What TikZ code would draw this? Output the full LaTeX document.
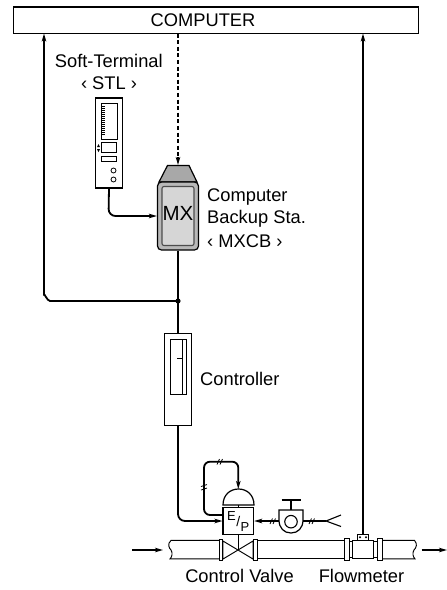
\documentclass[tikz,border=0pt]{standalone}
\usepackage{fontspec}
\setmainfont{Liberation Sans}
\usetikzlibrary{arrows.meta,calc}
\definecolor{mxtop}{gray}{0.66}
\definecolor{mxouter}{gray}{0.72}
\definecolor{mxinner}{gray}{0.84}
\tikzset{
  wire/.style={line width=1.8pt,line join=round},
  piece/.style={line width=0.95pt},
  tip/.style={-{Stealth[length=8pt,width=4.5pt,inset=2pt]}},
  boxed/.style={draw,line width=1.2pt,inner sep=0pt,fill=white},
  lbl/.style={font=\fontsize{18.3}{20}\selectfont,inner sep=0pt},
  tick/.style={line width=0.8pt},
}
\begin{document}
\begin{tikzpicture}[x=1pt,y=-1pt]
\useasboundingbox (0,0) rectangle (447,590);
% Computer
\node[boxed,lbl,minimum width=405pt,minimum height=26.5pt] (computer) at (216,20.2) {};
\node[lbl] (computertxt) at (203,20.2) {COMPUTER};
% labels
\node[lbl] (softt) at (108.8,61) {Soft-Terminal};
\node[lbl] (stl) at (109,83.5) {‹ STL ›};
\node[lbl,anchor=west] (cb1) at (207,197) {Computer};
\node[lbl,anchor=west] (cb2) at (207,218.5) {Backup Sta.};
\node[lbl,anchor=west] (cb3) at (207,241) {‹ MXCB ›};
\node[lbl,anchor=west] (ctrl) at (200,379) {Controller};
\node[lbl] (cvl) at (239.5,576) {Control Valve};
\node[lbl] (fml) at (361.5,576) {Flowmeter};
% STL device
\node[boxed,minimum width=26.5pt,minimum height=90pt] (stlbox) at (109,143) {};
\node[boxed,minimum width=16pt,minimum height=36pt,line width=0.9pt] (stlscreen) at (109,121) {};
\node[boxed,minimum width=15pt,minimum height=9.5pt,line width=0.9pt] (stlmid) at (108.5,147.5) {};
\node[boxed,minimum width=15pt,minimum height=5pt,line width=0.9pt] (stlsmall) at (108.5,158.5) {};
\node[draw,circle,line width=0.8pt,minimum size=5pt,inner sep=0pt] (stlc1) at (113.5,170.5) {};
\node[draw,circle,line width=0.8pt,minimum size=5pt,inner sep=0pt] (stlc2) at (113.5,179.5) {};
\foreach \y in {106,108,...,134}{\draw[line width=0.6pt] (101,\y) -- (104.5,\y);}
\fill (97,147) -- (100,147) -- (98.5,144) -- cycle;
\fill (97,149) -- (100,149) -- (98.5,152) -- cycle;
% MX
\draw[line width=1.2pt,fill=mxtop] (159,182) -- (167.5,165.5) -- (189,165.5) -- (197,182) -- cycle;
\node[draw,line width=1.2pt,fill=mxouter,rounded corners=4pt,minimum width=41pt,minimum height=68pt,inner sep=0pt] (mx) at (178,216) {};
\node[draw=black!70,line width=1.1pt,fill=mxinner,rounded corners=2pt,minimum width=32pt,minimum height=59pt,inner sep=0pt] (mxin) at (178,216) {};
\node[lbl,font=\fontsize{20.5}{22}\selectfont] (mxtxt) at (178,213.5) {MX};
% Controller
\node[boxed,minimum width=27pt,minimum height=91.5pt] (cont) at (178,379.5) {};
\node[boxed,minimum width=16pt,minimum height=54.5pt,line width=0.9pt] (contin) at (178,367) {};
\draw[line width=0.9pt] (182,339.7) -- (182,394.3);
\draw[line width=0.9pt] (177,358) -- (182,358);
% Wires
\coordinate (j) at (178,301);
\draw[wire,tip] (j) -- (50,301) to[out=180,in=90,looseness=0.9] (44,295) -- (44,33.5);
\draw[wire] (mx.south) -- (cont.north);
\fill (j) circle (2.6pt);
\draw[line width=2pt,dash pattern=on 4pt off 2.6pt] (178,33.5) -- (178,158);
\draw[wire,tip] (178,157) -- (178,165);
\draw[wire,tip,rounded corners=7pt] (stlbox.south) -- (108.5,216) -- (mx.west);
% E/P
\node[boxed,minimum width=30.5pt,minimum height=26.5pt] (ep) at (238.3,521) {};
\node[inner sep=0pt,font=\fontsize{13}{14}\selectfont] (ee) at (231.5,516.5) {E};
\node[inner sep=0pt,font=\fontsize{14}{14}\selectfont] (sl) at (238.3,521.5) {/};
\node[inner sep=0pt,font=\fontsize{13}{14}\selectfont] (pp) at (245,527) {P};
\draw[line width=1.2pt] (223,505) .. controls (223,495) and (230,489) .. (238.5,489) .. controls (247,489) and (254,495) .. (254,505) -- cycle;
\coordinate (domebase) at (238.3,505);
\coordinate (dometop) at (238.3,489);
\draw[line width=1.2pt] (domebase) -- (ep.north);
\draw[wire,tip,rounded corners=7pt] (cont.south) -- (178,521) -- (ep.west);
\draw[wire,tip,rounded corners=6pt] (223,515) -- (204,515) -- (204,461.7) -- (238.3,461.7) -- (dometop);
\draw[tick] (217,464.5) -- (219.5,459) (220,464.5) -- (222.5,459);
\draw[tick] (201,486.5) -- (207,484.5) (201,490) -- (207,488);
% valve
\draw[piece] (223,541) -- (253,559) -- (253,541) -- (223,559) -- cycle;
\draw[piece] (ep.south) -- (238.3,550);
\draw[piece] (219.5,539) rectangle (222.7,560);
\draw[piece] (253.8,539) rectangle (257.5,560);
% pipes
\draw[piece] (219.5,540.4) -- (171,540.4) .. controls (167,544) and (169,548) .. (171,550) .. controls (173,553) and (172,557) .. (170,558.9) -- (219.5,558.9);
\draw[piece] (257.5,540.4) -- (344,540.4) (257.5,558.9) -- (344,558.9);
\draw[piece] (344,538) rectangle (349,560);
\draw[piece] (349,541.5) -- (352.3,541.5) (349,557.5) -- (352.3,557.5);
\draw[piece] (352.3,540.4) rectangle (373.3,558.9);
\draw[piece] (373.3,541.5) -- (377,541.5) (373.3,557.5) -- (377,557.5);
\draw[piece] (377,538) rectangle (382,560);
\draw[piece] (382,540.4) -- (414.5,540.4) .. controls (418,544) and (416,548) .. (414,550) .. controls (412,553) and (413,557) .. (415,558.9) -- (382,558.9);
% flowmeter head
\node[boxed,minimum width=11.5pt,minimum height=5.8pt,line width=0.9pt] (head) at (363,537.2) {};
\fill (360,537.2) circle (1.1pt) (366,537.2) circle (1.1pt);
\draw[wire,tip] (head.north) -- (363,33.5);
% flow arrows
\coordinate (inA) at (132,550); \coordinate (inB) at (163,550);
\coordinate (outA) at (421.7,550); \coordinate (outB) at (447,550);
\draw[wire,tip] (inA) -- (inB);
\draw[wire,tip] (outA) -- (outB);
% positioner
\draw[line width=1.2pt] (279,510) -- (303,510) -- (303,520) .. controls (303,528) and (298,533) .. (291,533) .. controls (284,533) and (279,528) .. (279,520) -- cycle;
\node[draw,circle,line width=1.1pt,minimum size=12.5pt,inner sep=0pt] (poscirc) at (291,521.7) {};
\draw[line width=1.2pt] (291,510) -- (291,500) (281.7,500) -- (300.7,500);
\draw[wire,tip] (279,521) -- (ep.east);
\draw[tick] (270,524) -- (272.5,518.5) (273,524) -- (275.5,518.5);
\draw[wire] (303,521) -- (326,521);
\draw[tick] (309,524) -- (311.5,518.5) (312,524) -- (314.5,518.5);
\draw[line width=1.1pt] (341,515) -- (326,521) -- (341,526.5);
\end{tikzpicture}
\end{document}
